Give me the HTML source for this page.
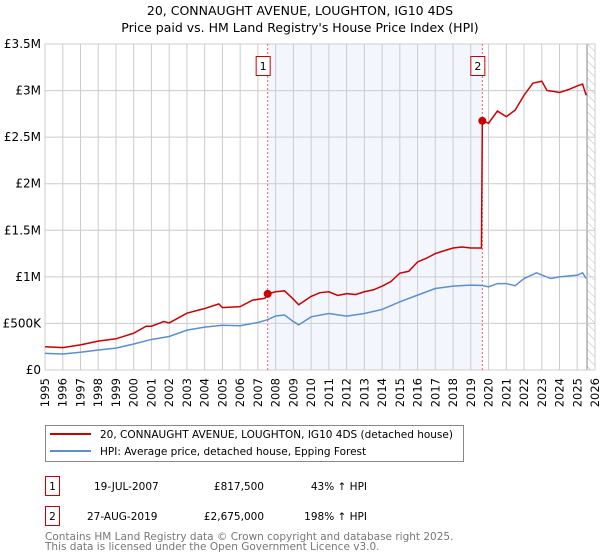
<!DOCTYPE html>
<html><head><meta charset="utf-8"><style>
body{margin:0;background:#fff;font-family:"DejaVu Sans","Liberation Sans",sans-serif;}
svg{display:block}
</style></head><body>
<svg id="c" width="600" height="560" xmlns="http://www.w3.org/2000/svg" font-family="DejaVu Sans, Liberation Sans, sans-serif">
<text x="300" y="15" text-anchor="middle" font-size="12.5" fill="#000">20, CONNAUGHT AVENUE, LOUGHTON, IG10 4DS</text>
<text x="300" y="32" text-anchor="middle" font-size="12.5" fill="#000">Price paid vs. HM Land Registry's House Price Index (HPI)</text>
<g id="plot"></g>
<g>
<rect x="45.5" y="425.5" width="418" height="36" fill="#fff" stroke="#888"/>
<line x1="50" y1="434" x2="91" y2="434" stroke="#cc0000" stroke-width="2"/>
<text x="100" y="438" font-size="10.5">20, CONNAUGHT AVENUE, LOUGHTON, IG10 4DS (detached house)</text>
<line x1="50" y1="451" x2="91" y2="451" stroke="#5b8fd0" stroke-width="2"/>
<text x="100" y="455" font-size="10.5">HPI: Average price, detached house, Epping Forest</text>
</g>
<g font-size="10.5">
<rect x="45.5" y="476.5" width="14" height="19" fill="#fff" stroke="#cc0000"/>
<text x="52.5" y="490" text-anchor="middle">1</text>
<text x="94" y="490">19-JUL-2007</text>
<text x="264" y="490" text-anchor="end">£817,500</text>
<text x="367" y="490" text-anchor="end">43% ↑ HPI</text>
<rect x="45.5" y="506.5" width="14" height="19" fill="#fff" stroke="#cc0000"/>
<text x="52.5" y="520" text-anchor="middle">2</text>
<text x="87" y="520">27-AUG-2019</text>
<text x="264" y="520" text-anchor="end">£2,675,000</text>
<text x="367" y="520" text-anchor="end">198% ↑ HPI</text>
</g>
<text x="45" y="540" font-size="10.5" fill="#777">Contains HM Land Registry data © Crown copyright and database right 2025.</text>
<text x="45" y="550" font-size="10.5" fill="#777">This data is licensed under the Open Government Licence v3.0.</text>
</svg>
<script>
const redDates=[1995,1996,1997,1998,1999,2000,2000.7,2001,2001.7,2002,2003,2004,2004.8,2005,2006,2006.7,2007.4,2007.55,2008,2008.5,2009,2009.3,2010,2010.5,2011,2011.5,2012,2012.5,2013,2013.5,2014,2014.5,2015,2015.5,2016,2016.5,2017,2017.5,2018,2018.5,2019,2019.6,2019.65,2020,2020.5,2021,2021.5,2022,2022.5,2023,2023.3,2023.7,2024,2024.5,2025,2025.3,2025.5];
const redValues=[250,240,270,310,335,395,470,470,520,505,610,660,710,670,680,750,770,817.5,840,850,760,700,790,830,840,800,820,810,840,860,900,950,1040,1060,1160,1200,1250,1280,1310,1320,1310,1310,2675,2650,2780,2720,2790,2950,3080,3100,3000,2990,2980,3010,3050,3070,2950];
const hpiDates=[1995,1996,1997,1998,1999,2000,2001,2002,2003,2004,2005,2006,2007,2007.55,2008,2008.5,2009,2009.3,2010,2011,2012,2013,2014,2015,2016,2017,2018,2019,2019.65,2020,2020.5,2021,2021.5,2022,2022.7,2023.5,2024,2025,2025.3,2025.5];
const hpiValues=[178,172,190,215,235,279,328,360,428,460,480,475,510,540,580,590,520,485,571,607,579,607,650,732,804,875,900,911,907,893,928,928,905,982,1043,982,1000,1018,1043,982];
const yTicks=[0,500,1000,1500,2000,2500,3000,3500];
const yTickLabels=['£0','£500K','£1M','£1.5M','£2M','£2.5M','£3M','£3.5M'];
const saleDates=[2007.55,2019.65];
const saleValues=[817.5,2675];
const saleLabels=['1','2'];

const NS='http://www.w3.org/2000/svg';
const L=45,R=595,T=44,B=370,X0=1995,X1=2026,YMAX=3500;
const xs=d=>L+(d-X0)/(X1-X0)*(R-L);
const ys=v=>B-v/YMAX*(B-T);
const g=document.getElementById('plot');
function mk(tag,attrs,parent){const e=document.createElementNS(NS,tag);for(const k in attrs)e.setAttribute(k,attrs[k]);(parent||g).appendChild(e);return e;}

let e=mk('rect',{x:xs(saleDates[0]),y:T,width:xs(saleDates[1])-xs(saleDates[0]),height:B-T,fill:'#eef2fc',opacity:0.7});


const defs=mk('defs',{});
const pat=mk('pattern',{id:'h',width:6,height:6,patternUnits:'userSpaceOnUse',patternTransform:'rotate(-45)'},defs);
mk('line',{x1:0,y1:0,x2:0,y2:6,stroke:'#bbb','stroke-width':1},pat);
e=mk('rect',{x:xs(2025.55),y:T,width:R-xs(2025.55),height:B-T,fill:'url(#h)'});


e=mk('line',{x1:xs(2025.55),y1:T,x2:xs(2025.55),y2:B,stroke:'#888','stroke-width':1});


for(let y=X0;y<=X1;y++){
 e=mk('line',{x1:xs(y),y1:T,x2:xs(y),y2:B,stroke:'#ccc','stroke-width':1});
 
 
 e=mk('text',{x:0,y:0,'font-size':11.5,'text-anchor':'end',transform:`translate(${xs(y)+4},${B+8}) rotate(-90)`});
 e.textContent=String(y);
 
 
}
yTicks.forEach((v,i)=>{
 e=mk('line',{x1:L,y1:ys(v),x2:R,y2:ys(v),stroke:'#ccc','stroke-width':1});
 
 
 e=mk('text',{x:L-4,y:ys(v)+4,'font-size':12,'text-anchor':'end'});
 e.textContent=yTickLabels[i];
 
 
});
e=mk('rect',{x:L,y:T,width:R-L,height:B-T,fill:'none',stroke:'#ccc'});


saleDates.forEach((d,i)=>{
 e=mk('line',{x1:xs(d),y1:T,x2:xs(d),y2:B,stroke:'#f06070','stroke-width':1,'stroke-dasharray':'2,2'});
 
 
 e=mk('rect',{x:xs(d)-11.5,y:56.5,width:14,height:19,fill:'#fff',stroke:'#cc0000'});
 
 
 e=mk('text',{x:xs(d)-4.5,y:70,'font-size':11,'text-anchor':'middle'});
 e.textContent=saleLabels[i];
 
 
});
e=mk('polyline',{points:hpiDates.map((d,i)=>xs(d)+','+ys(hpiValues[i])).join(' '),fill:'none',stroke:'#5b8fd0','stroke-width':1.5});


e=mk('polyline',{points:redDates.map((d,i)=>xs(d)+','+ys(redValues[i])).join(' '),fill:'none',stroke:'#cc0000','stroke-width':1.5});


saleDates.forEach((d,i)=>{
 e=mk('circle',{cx:xs(d),cy:ys(saleValues[i]),r:4,fill:'#cc0000'});
 
 
});
</script>
</body></html>
